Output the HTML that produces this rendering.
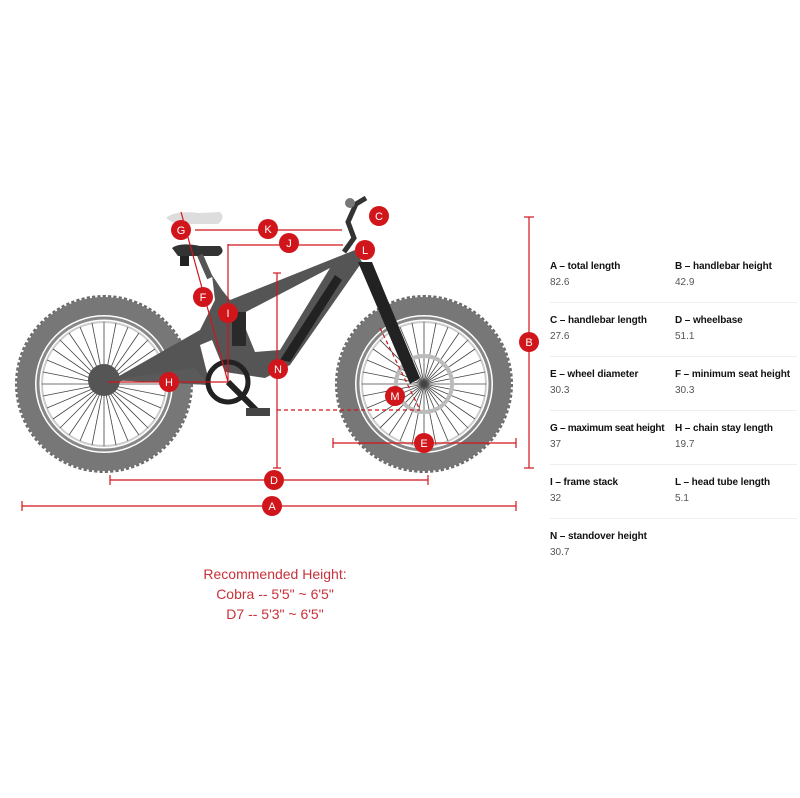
<!DOCTYPE html>
<html><head><meta charset="utf-8"><style>
body{margin:0;background:#fff;width:800px;height:798px;overflow:hidden;font-family:"Liberation Sans",sans-serif;position:relative}
.t{position:absolute;font-size:10px;color:#111;font-weight:bold;white-space:nowrap;letter-spacing:-0.1px}
.v{position:absolute;font-size:10px;color:#555}
.sep{position:absolute;height:1px;background:#eee}
.rec{position:absolute;left:150px;width:250px;text-align:center;color:#c8323a;font-size:14px;line-height:20px;top:564px}
</style></head><body>
<svg width="800" height="798" style="position:absolute;left:0;top:0">
<defs>
<g id="wheel">
<circle r="82" fill="none" stroke="#6b6b6b" stroke-width="14" stroke-dasharray="3 2"/>
<circle r="78" fill="none" stroke="#777" stroke-width="18"/>
<circle r="66" fill="#fff" stroke="#888" stroke-width="3"/>
<circle r="62" fill="none" stroke="#ccc" stroke-width="2"/>
<g stroke="#444" stroke-width="0.8">
<line x1="-62" y1="0" x2="62" y2="0"/><line x1="0" y1="-62" x2="0" y2="62"/>
<line x1="-44" y1="-44" x2="44" y2="44"/><line x1="-44" y1="44" x2="44" y2="-44"/>
<line x1="-57" y1="-24" x2="57" y2="24"/><line x1="-57" y1="24" x2="57" y2="-24"/>
<line x1="-24" y1="-57" x2="24" y2="57"/><line x1="-24" y1="57" x2="24" y2="-57"/>
<line x1="-61" y1="-12" x2="61" y2="12"/><line x1="-61" y1="12" x2="61" y2="-12"/>
<line x1="-12" y1="-61" x2="12" y2="61"/><line x1="-12" y1="61" x2="12" y2="-61"/>
<line x1="-51" y1="-35" x2="51" y2="35"/><line x1="-51" y1="35" x2="51" y2="-35"/>
<line x1="-35" y1="-51" x2="35" y2="51"/><line x1="-35" y1="51" x2="35" y2="-51"/>
</g></g>
</defs>
<use href="#wheel" x="104" y="384"/>
<use href="#wheel" x="424" y="384"/>
<circle cx="104" cy="380" r="16" fill="#555"/>
<circle cx="424" cy="384" r="28" fill="none" stroke="#bbb" stroke-width="4"/>
<path d="M112 380 L200 330 L215 300 L212 275 L222 290 L230 300 L355 250 L362 262 L290 365 L265 378 L225 372 L212 340 L200 345 L210 385 Z" fill="#555"/>
<path d="M240 315 L330 268 L280 350 L255 352 Z" fill="#fff"/>
<path d="M112 380 L195 368 L210 385 Z" fill="#5a5a5a"/>
<path d="M280 360 L335 275 L342 280 L290 362 Z" fill="#222"/>
<path d="M358 262 L372 262 L420 378 L410 384 Z" fill="#222"/>
<rect x="232" y="312" width="14" height="34" fill="#2a2a2a"/>
<circle cx="228" cy="382" r="20" fill="none" stroke="#222" stroke-width="5"/>
<path d="M228 382 L258 412" stroke="#222" stroke-width="6"/>
<rect x="246" y="408" width="24" height="8" fill="#444"/>
<path d="M166 218 Q175 210 200 213 L220 212 Q226 218 218 224 L175 224 Z" fill="#ddd"/>
<path d="M172 248 Q180 242 200 246 L220 246 Q226 252 218 256 L178 256 Z" fill="#333"/>
<rect x="180" y="256" width="9" height="10" fill="#222"/>
<line x1="200" y1="255" x2="210" y2="278" stroke="#555" stroke-width="6"/>
<path d="M344 252 L354 238 L348 222 L356 204 L366 198" stroke="#333" stroke-width="5" fill="none"/>
<circle cx="350" cy="203" r="5" fill="#777"/>
<g stroke="#d0161b" stroke-width="1.2" fill="none">
<line x1="22" y1="506" x2="516" y2="506"/><line x1="22" y1="501" x2="22" y2="511"/><line x1="516" y1="501" x2="516" y2="511"/>
<line x1="110" y1="480" x2="428" y2="480"/><line x1="110" y1="475" x2="110" y2="485"/><line x1="428" y1="475" x2="428" y2="485"/>
<line x1="529" y1="217" x2="529" y2="468"/><line x1="524" y1="217" x2="534" y2="217"/><line x1="524" y1="468" x2="534" y2="468"/>
<line x1="333" y1="443" x2="516" y2="443"/><line x1="333" y1="438" x2="333" y2="448"/><line x1="516" y1="438" x2="516" y2="448"/>
<line x1="277" y1="273" x2="277" y2="468"/><line x1="273" y1="273" x2="281" y2="273"/><line x1="273" y1="468" x2="281" y2="468"/>
<line x1="108" y1="382" x2="228" y2="382"/>
<line x1="228" y1="244" x2="228" y2="382"/>
<line x1="228" y1="245" x2="343" y2="245"/>
<line x1="195" y1="230" x2="342" y2="230"/>
<line x1="181" y1="212" x2="228" y2="382"/>
<line x1="277" y1="410" x2="420" y2="410" stroke-dasharray="4 3"/>
<line x1="380" y1="328" x2="420" y2="410" stroke-dasharray="4 3"/>
</g>
<g fill="#d0161b">
<circle cx="272" cy="506" r="10"/><circle cx="274" cy="480" r="10"/><circle cx="529" cy="342" r="10"/>
<circle cx="424" cy="443" r="10"/><circle cx="278" cy="369" r="10"/><circle cx="169" cy="382" r="10"/>
<circle cx="228" cy="313" r="10"/><circle cx="289" cy="243" r="10"/><circle cx="268" cy="229" r="10"/>
<circle cx="181" cy="230" r="10"/><circle cx="203" cy="297" r="10"/><circle cx="379" cy="216" r="10"/>
<circle cx="365" cy="250" r="10"/><circle cx="395" cy="396" r="10"/>
</g>
<g fill="#fff" font-family="Liberation Sans,sans-serif" font-size="11" text-anchor="middle">
<text x="272" y="510">A</text><text x="274" y="484">D</text><text x="529" y="346">B</text>
<text x="424" y="447">E</text><text x="278" y="373">N</text><text x="169" y="386">H</text>
<text x="228" y="317">I</text><text x="289" y="247">J</text><text x="268" y="233">K</text>
<text x="181" y="234">G</text><text x="203" y="301">F</text><text x="379" y="220">C</text>
<text x="365" y="254">L</text><text x="395" y="400">M</text>
</g>
</svg>
<div class="t" style="left:550px;top:261px">A – total length</div><div class="v" style="left:550px;top:277px">82.6</div>
<div class="t" style="left:675px;top:261px">B – handlebar height</div><div class="v" style="left:675px;top:277px">42.9</div>
<div class="sep" style="left:550px;width:247px;top:302px"></div>
<div class="t" style="left:550px;top:315px">C – handlebar length</div><div class="v" style="left:550px;top:331px">27.6</div>
<div class="t" style="left:675px;top:315px">D – wheelbase</div><div class="v" style="left:675px;top:331px">51.1</div>
<div class="sep" style="left:550px;width:247px;top:356px"></div>
<div class="t" style="left:550px;top:369px">E – wheel diameter</div><div class="v" style="left:550px;top:385px">30.3</div>
<div class="t" style="left:675px;top:369px">F – minimum seat height</div><div class="v" style="left:675px;top:385px">30.3</div>
<div class="sep" style="left:550px;width:247px;top:410px"></div>
<div class="t" style="left:550px;top:423px;letter-spacing:-0.3px">G – maximum seat height</div><div class="v" style="left:550px;top:439px">37</div>
<div class="t" style="left:675px;top:423px">H – chain stay length</div><div class="v" style="left:675px;top:439px">19.7</div>
<div class="sep" style="left:550px;width:247px;top:464px"></div>
<div class="t" style="left:550px;top:477px">I – frame stack</div><div class="v" style="left:550px;top:493px">32</div>
<div class="t" style="left:675px;top:477px">L – head tube length</div><div class="v" style="left:675px;top:493px">5.1</div>
<div class="sep" style="left:550px;width:247px;top:518px"></div>
<div class="t" style="left:550px;top:531px">N – standover height</div><div class="v" style="left:550px;top:547px">30.7</div>
<div class="rec">Recommended Height:<br>Cobra -- 5'5" ~ 6'5"<br>D7 -- 5'3" ~ 6'5"</div>
</body></html>
